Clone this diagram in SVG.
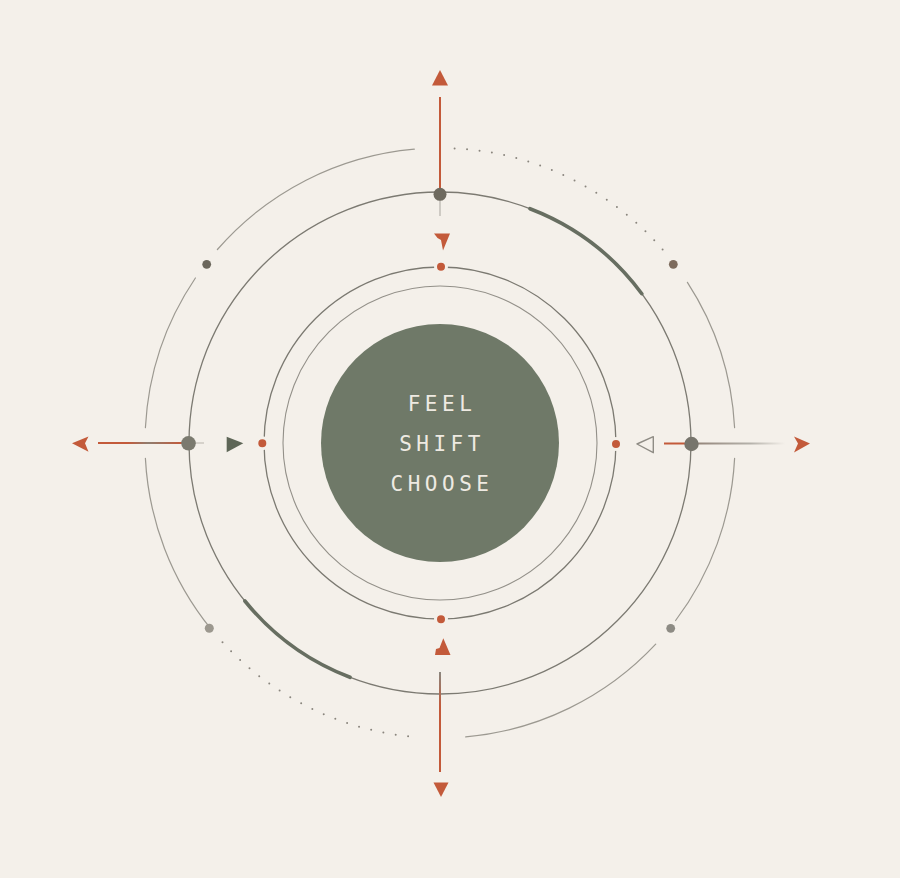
<svg xmlns="http://www.w3.org/2000/svg" width="900" height="878" viewBox="0 0 900 878">
  <style>
    .ring { fill: none; stroke-linecap: round; }
    .outer { stroke: #9c9991; stroke-width: 1.2; }
    .dotted { stroke: #8a867e; stroke-width: 2; stroke-dasharray: 0 12.5; stroke-linecap: round; fill: none; }
    .thick { fill: none; stroke: #676e61; stroke-width: 3.6; stroke-linecap: round; }
    .orange { fill: #c35a3a; }
    .odot { fill: #c35a3a; stroke: #f4f0ea; stroke-width: 3; }
    .label { font-family: "DejaVu Sans Mono", "Liberation Mono", monospace; font-size: 21px; letter-spacing: 4.5px; fill: #eeeae2; text-anchor: middle; }
  </style>
  <defs>
    <linearGradient id="gBottom" gradientUnits="userSpaceOnUse" x1="440" y1="672" x2="440" y2="772">
      <stop offset="0" stop-color="#8a877f"/>
      <stop offset="0.35" stop-color="#c35a3a"/>
      <stop offset="1" stop-color="#c35a3a"/>
    </linearGradient>
    <linearGradient id="gLeft" gradientUnits="userSpaceOnUse" x1="98" y1="0" x2="182" y2="0">
      <stop offset="0" stop-color="#c35a3a"/>
      <stop offset="0.35" stop-color="#c35a3a"/>
      <stop offset="0.6" stop-color="#8f7d6f"/>
      <stop offset="1" stop-color="#c35a3a"/>
    </linearGradient>
    <linearGradient id="gRight" gradientUnits="userSpaceOnUse" x1="698" y1="0" x2="785" y2="0">
      <stop offset="0" stop-color="#8a7a6e" stop-opacity="0.9"/>
      <stop offset="0.6" stop-color="#8a877f" stop-opacity="0.6"/>
      <stop offset="1" stop-color="#8a877f" stop-opacity="0"/>
    </linearGradient>
  </defs>

  <rect width="900" height="878" fill="#f4f0ea"/>

  <g id="rings">
    <circle class="ring" cx="440" cy="443" r="157" stroke="#939089" stroke-width="1.1"/>
    <circle class="ring" cx="440" cy="443" r="176" stroke="#7b7971" stroke-width="1.3"/>
    <circle class="ring" cx="440" cy="443" r="251" stroke="#7c7a72" stroke-width="1.3"/>
    <path class="thick" d="M530,208.7 A251,251 0 0 1 641.8,293.7"/>
    <path class="thick" d="M244.9,601 A251,251 0 0 0 350,677.3"/>
    <path class="ring outer" d="M414.3,149.1 A295,295 0 0 0 217.4,249.5"/>
    <path class="ring outer" d="M195.4,278 A295,295 0 0 0 145.4,427.6"/>
    <path class="ring outer" d="M145.4,458.4 A295,295 0 0 0 210.7,628.6"/>
    <path class="dotted" d="M222.5,642.3 A295,295 0 0 0 414.3,736.9"/>
    <path class="ring outer" d="M465.7,736.9 A295,295 0 0 0 655.7,644.2"/>
    <path class="ring outer" d="M675.6,620.5 A295,295 0 0 0 734.6,458.4"/>
    <path class="ring outer" d="M734.6,427.6 A295,295 0 0 0 687.4,282.3"/>
    <path class="dotted" d="M662.6,249.5 A295,295 0 0 0 450.3,148.2"/>
  </g>

  <g id="core">
    <circle cx="440" cy="443" r="119" fill="#6f7968"/>
    <text class="label" x="442" y="411">FEEL</text>
    <text class="label" x="442" y="451">SHIFT</text>
    <text class="label" x="442" y="491">CHOOSE</text>
  </g>

  <g id="connectors">
    <line x1="440" y1="97" x2="440" y2="190" stroke="#c35a3a" stroke-width="2"/>
    <line x1="440" y1="200" x2="440" y2="216" stroke="#8a877f" stroke-width="1.4" opacity="0.5"/>
    <line x1="440" y1="672" x2="440" y2="772" stroke="url(#gBottom)" stroke-width="2"/>
    <line x1="98" y1="443" x2="184" y2="443" stroke="url(#gLeft)" stroke-width="2"/>
    <line x1="195" y1="443" x2="204" y2="443" stroke="#8a877f" stroke-width="1.4" opacity="0.4"/>
    <line x1="664" y1="443.5" x2="686" y2="443.5" stroke="#c35a3a" stroke-width="2"/>
    <line x1="698" y1="443.5" x2="785" y2="443.5" stroke="url(#gRight)" stroke-width="2"/>
  </g>

  <g id="arrowheads">
    <polygon class="orange" points="440,70 448,85.5 432,85.5"/>
    <polygon class="orange" points="441,797 448.5,782.5 433.5,782.5"/>
    <polygon class="orange" points="72,443.3 88.5,436.5 85,443.3 88.5,451.7"/>
    <polygon class="orange" points="810,443.5 794,436.5 798,443.5 794,452.5"/>
    <polygon class="orange" points="434,233.5 450,233.5 443,250.5 441,240 437.5,238"/>
    <polygon class="orange" points="443.3,638.3 450.5,655 435,655 436,649 439.5,648"/>
    <polygon points="226.7,436.7 243.3,443.3 226.7,452.3" fill="#5e6657"/>
    <polygon points="653.3,436.7 637,444 653.3,452.7" fill="#f4f0ea" stroke="#8f8c85" stroke-width="1.4" stroke-linejoin="round"/>
  </g>

  <g id="nodes">
    <circle id="node-top" cx="440" cy="194.3" r="6.5" fill="#6e6a5f"/>
    <circle id="node-left" cx="188.5" cy="443.3" r="7.3" fill="#7b7a6f"/>
    <circle id="node-right" cx="691.5" cy="444" r="7.2" fill="#77756c"/>
    <circle id="node-tl" cx="206.7" cy="264.3" r="4.4" fill="#6b675c"/>
    <circle id="node-tr" cx="673.3" cy="264.3" r="4.4" fill="#7d6b5d"/>
    <circle id="node-bl" cx="209.3" cy="628.3" r="4.5" fill="#9c988f"/>
    <circle id="node-br" cx="670.7" cy="628.3" r="4.4" fill="#8d8b84"/>
    <circle id="dot-top" class="odot" cx="441" cy="266.7" r="5.5"/>
    <circle id="dot-bottom" class="odot" cx="441" cy="619.3" r="5.5"/>
    <circle id="dot-left" class="odot" cx="262.3" cy="443.3" r="5.5"/>
    <circle id="dot-right" class="odot" cx="616" cy="444" r="5.5"/>
  </g>
</svg>
